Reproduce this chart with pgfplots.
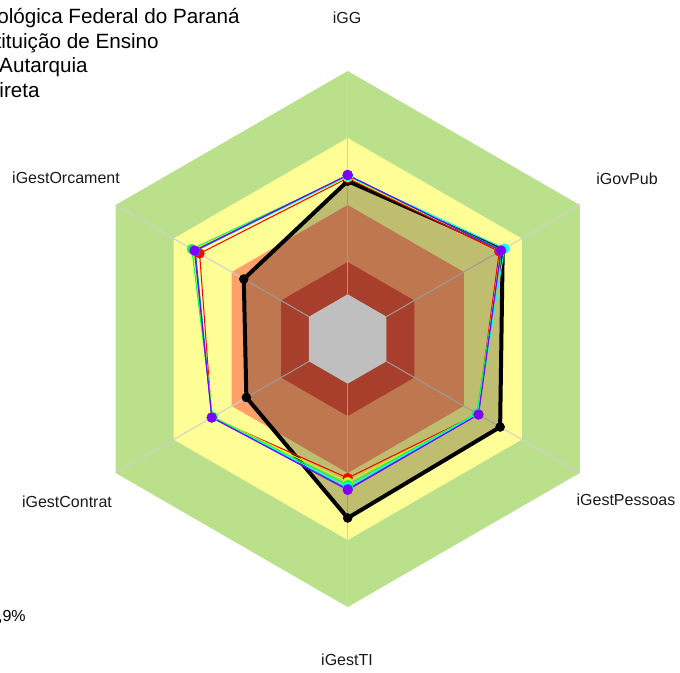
\documentclass[border=0pt]{standalone}
\usepackage{pgfplots}
\pgfplotsset{compat=1.18}
\usepackage{pgfplotstable}
\usepackage{fontspec}
\setmainfont{Liberation Sans}
\definecolor{bandgreen}{HTML}{BBE08C}
\definecolor{bandyellow}{HTML}{FFFD95}
\definecolor{bandorange}{HTML}{FFA06B}
\definecolor{banddark}{HTML}{E0553B}
\definecolor{axline}{HTML}{CFCFCF}
\definecolor{sA}{HTML}{FF0000}
\definecolor{sB}{HTML}{CCFF00}
\definecolor{sC}{HTML}{00FF40}
\definecolor{sD}{HTML}{00FFFF}
\definecolor{sE}{HTML}{0060FF}
\definecolor{sF}{HTML}{8000FF}
% radii in pixel units (outer ring = 268)
\pgfplotstableread{
angle black red yg green cyan blue purple
90    158   161 162 163   163  164  164
30    179   175 177 178   181  177  177
-30   176   150 150 149   150  151  151
-90   179   139 143 146   148  150  151
210   117   157 156 156   157  157  157
150   120   171 178 180   176  176  177
90    158   161 162 163   163  164  164
}\series
\pgfplotstableread{
angle r1 r2 r3 r4 r5
90   268 201 134 77 44.7
30   268 201 134 77 44.7
-30  268 201 134 77 44.7
-90  268 201 134 77 44.7
210  268 201 134 77 44.7
150  268 201 134 77 44.7
90   268 201 134 77 44.7
}\bands
\begin{document}
\begin{tikzpicture}
\useasboundingbox (0,0) rectangle (510pt,504pt);
\begin{axis}[at={(0,0)}, anchor=south west, scale only axis,
  width=510pt, height=504pt,
  xmin=-347.7, xmax=332.3, ymin=-333, ymax=339,
  hide axis, clip=false]
% bands
\addplot[draw=none, fill=bandgreen, data cs=polar] table[x=angle, y=r1] {\bands};
\addplot[draw=none, fill=bandyellow, data cs=polar] table[x=angle, y=r2] {\bands};
\addplot[draw=none, fill=bandorange, data cs=polar] table[x=angle, y=r3] {\bands};
\addplot[draw=none, fill=banddark, data cs=polar] table[x=angle, y=r4] {\bands};
\addplot[draw=none, fill=white, data cs=polar] table[x=angle, y=r5] {\bands};
% axis lines
\addplot[axline, line width=0.75pt, data cs=polar] coordinates {(90,44.7) (90,268)};
\addplot[axline, line width=0.75pt, data cs=polar] coordinates {(30,44.7) (30,268)};
\addplot[axline, line width=0.75pt, data cs=polar] coordinates {(-30,44.7) (-30,268)};
\addplot[axline, line width=0.75pt, data cs=polar] coordinates {(-90,44.7) (-90,268)};
\addplot[axline, line width=0.75pt, data cs=polar] coordinates {(210,44.7) (210,268)};
\addplot[axline, line width=0.75pt, data cs=polar] coordinates {(150,44.7) (150,268)};
% black series
\addplot[draw=none, fill=black, fill opacity=0.25, data cs=polar] table[x=angle, y=black] {\series};
\addplot[black, line width=3pt, line join=round, mark=*, mark size=3.3pt, mark options={line width=0.5pt}, data cs=polar] table[x=angle, y=black] {\series};
% coloured series
\addplot[sA, line width=0.75pt, mark=*, mark size=3.6pt, mark options={line width=0.3pt}, data cs=polar] table[x=angle, y=red] {\series};
\addplot[sB, line width=0.75pt, mark=*, mark size=3.6pt, mark options={line width=0.3pt}, data cs=polar] table[x=angle, y=yg] {\series};
\addplot[sC, line width=0.75pt, mark=*, mark size=3.6pt, mark options={line width=0.3pt}, data cs=polar] table[x=angle, y=green] {\series};
\addplot[sD, line width=0.75pt, mark=*, mark size=3.6pt, mark options={line width=0.3pt}, data cs=polar] table[x=angle, y=cyan] {\series};
\addplot[sE, line width=0.75pt, mark=*, mark size=3.6pt, mark options={line width=0.3pt}, data cs=polar] table[x=angle, y=blue] {\series};
\addplot[sF, line width=0.75pt, mark=*, mark size=3.6pt, mark options={line width=0.3pt}, data cs=polar] table[x=angle, y=purple] {\series};
% axis labels
\node[font=\fontsize{12}{14}\selectfont, text=black!90] at (axis cs:-0.7,321) {iGG};
\node[font=\fontsize{12}{14}\selectfont, text=black!90] at (axis cs:279.3,160) {iGovPub};
\node[font=\fontsize{12}{14}\selectfont, text=black!90] at (axis cs:278.3,-161) {iGestPessoas};
\node[font=\fontsize{12}{14}\selectfont, text=black!90] at (axis cs:-0.7,-321) {iGestTI};
\node[font=\fontsize{12}{14}\selectfont, text=black!90] at (axis cs:-280.7,-163) {iGestContrat};
\node[font=\fontsize{12}{14}\selectfont, text=black!90] at (axis cs:-281.7,161) {iGestOrcament};
% title lines (cut off at the left edge, as in the reference)
\node[font=\fontsize{15.5}{18}\selectfont, anchor=base east, inner sep=0pt] at (axis cs:-107.7,315) {Universidade Tecnológica Federal do Paraná};
\node[font=\fontsize{15.5}{18}\selectfont, anchor=base east, inner sep=0pt] at (axis cs:-188.7,290.5) {Tipo: Instituição de Ensino};
\node[font=\fontsize{15.5}{18}\selectfont, anchor=base east, inner sep=0pt] at (axis cs:-259.7,266) {Natureza: Autarquia};
\node[font=\fontsize{15.5}{18}\selectfont, anchor=base east, inner sep=0pt] at (axis cs:-307.7,241) {Administração Indireta};
\node[font=\fontsize{12}{14}\selectfont, anchor=base east, inner sep=0pt] at (axis cs:-321.7,-282.7) {iGG: 55,9\%};
\end{axis}
\end{tikzpicture}
\end{document}
